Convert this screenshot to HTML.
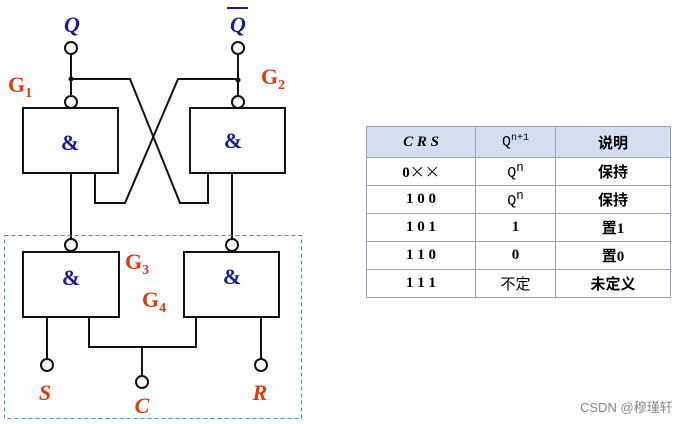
<!DOCTYPE html>
<html><head><meta charset="utf-8"><style>
body{margin:0;width:696px;height:424px;background:#fff;overflow:hidden;position:relative;font-family:"Liberation Serif","Noto Serif CJK SC",serif}
table{position:absolute;left:366px;top:126px;border-collapse:collapse;font-size:15px}
td{border:1px solid #9aa7b8;text-align:center;padding:0;height:27px;font-weight:bold;font-family:"Liberation Serif","Noto Sans CJK SC",serif}
tr:first-child td{background:#d3dff0;height:30px}
.m{font-family:"Liberation Mono","Noto Sans CJK SC",monospace;font-weight:normal;font-size:15px}
.x{font-family:"Noto Sans CJK SC",sans-serif;font-weight:normal}
</style></head><body>
<svg width="696" height="424" style="position:absolute;left:0;top:0" font-family="Liberation Serif" font-weight="bold">
<g stroke="#111" stroke-width="2" fill="none">
<rect x="23" y="108" width="95" height="65"/><rect x="190" y="108" width="95" height="65"/>
<rect x="23" y="252" width="96" height="65"/><rect x="184" y="252" width="95" height="65"/>
<line x1="71" y1="54" x2="71" y2="96"/><line x1="238" y1="54" x2="238" y2="96"/>
<polyline points="71,79 130,79 180,203 208,203 208,173"/>
<polyline points="238,79 178,79 125,203 95,203 95,173"/>
<line x1="71" y1="173" x2="71" y2="239"/><line x1="232" y1="173" x2="232" y2="239"/>
<line x1="47" y1="317" x2="47" y2="359"/><line x1="261" y1="317" x2="261" y2="359"/>
<polyline points="89,317 89,347 196,347 196,317"/>
<line x1="142" y1="347" x2="142" y2="376"/>
<g fill="#fff"><circle cx="71" cy="48" r="6"/><circle cx="238" cy="48" r="6"/><circle cx="71" cy="102" r="6"/><circle cx="238" cy="102" r="6"/><circle cx="71" cy="245" r="6"/><circle cx="232" cy="245" r="6"/><circle cx="47" cy="365" r="6"/><circle cx="261" cy="365" r="6"/><circle cx="142" cy="382" r="6"/></g>
</g>
<circle cx="71" cy="79" r="2.5" fill="#111"/><circle cx="238" cy="80" r="2.5" fill="#111"/>
<rect x="4.5" y="235.5" width="297" height="183" fill="none" stroke="#3b8fe0" stroke-dasharray="4,3"/>
<g fill="#1a1a9a" font-size="22" text-anchor="middle">
<text x="72" y="32" font-style="italic">Q</text><text x="238" y="32" font-style="italic">Q</text>
<line x1="227" y1="8" x2="248" y2="8" stroke="#1a1a9a" stroke-width="2"/>
<text x="70" y="150">&amp;</text><text x="233" y="148">&amp;</text><text x="71" y="285">&amp;</text><text x="232" y="284">&amp;</text>
</g>
<g fill="#e03a10" font-size="22">
<text x="8" y="92">G<tspan font-size="14" dy="5">1</tspan></text>
<text x="261" y="84">G<tspan font-size="14" dy="5">2</tspan></text>
<text x="125" y="269">G<tspan font-size="14" dy="5">3</tspan></text>
<text x="142" y="307">G<tspan font-size="14" dy="5">4</tspan></text>
<g font-style="italic" text-anchor="middle"><text x="45" y="400">S</text><text x="142" y="413">C</text><text x="260" y="400">R</text></g>
</g>
<text x="580" y="412" font-family="Liberation Sans,Noto Sans CJK SC,sans-serif" font-weight="normal" font-size="13" fill="#888">CSDN @穆瑾轩</text>
</svg>
<table>
<tr><td style="width:108px;font-style:italic">C R S</td><td style="width:79px" class="m">Q<sup style="font-size:10px">n+1</sup></td><td style="width:114px">说明</td></tr>
<tr><td>0<span class="x">××</span></td><td class="m">Q<sup>n</sup></td><td>保持</td></tr>
<tr><td>1 0 0</td><td class="m">Q<sup>n</sup></td><td>保持</td></tr>
<tr><td>1 0 1</td><td>1</td><td>置1</td></tr>
<tr><td>1 1 0</td><td>0</td><td>置0</td></tr>
<tr><td>1 1 1</td><td style="font-weight:normal">不定</td><td>未定义</td></tr>
</table>
</body></html>
